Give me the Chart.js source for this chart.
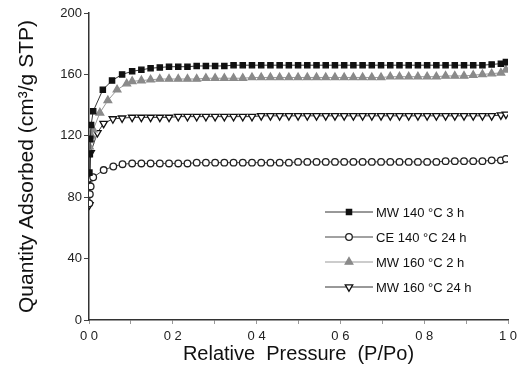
<!DOCTYPE html>
<html><head><meta charset="utf-8">
<script src="https://cdn.jsdelivr.net/npm/chart.js@4/dist/chart.umd.min.js"></script>
<style>html,body{margin:0;padding:0;background:#fff}#wrap{width:528px;height:381px}</style>
</head><body><div id="wrap"><canvas id="c" width="528" height="381"></canvas></div>
<script>
const seriesNames = ['MW 140 \u00B0C 3 h', 'CE 140 \u00B0C 24 h', 'MW 160 \u00B0C 2 h', 'MW 160 \u00B0C 24 h'];
const xTickLabels = ['0 0', '0 2', '0 4', '0 6', '0 8', '1 0'];
const yTickLabels = ['0', '40', '80', '120', '160', '200'];
const xTitle = 'Relative  Pressure  (P/Po)';
const yTitle = 'Quantity Adsorbed (cm\u00B3/g STP)';

// shared relative-pressure points for the plateau region (42 points)
const pTail = [0.103,0.125,0.147,0.169,0.191,0.213,
  0.235,0.257,0.279,0.301,0.323,0.345,
  0.367,0.389,0.411,0.433,0.455,0.477,
  0.499,0.521,0.543,0.565,0.587,0.609,
  0.631,0.653,0.675,0.697,0.719,0.741,
  0.763,0.785,0.807,0.829,0.851,0.873,
  0.895,0.917,0.939,0.961,0.983,0.995];

// MW 140 °C 3 h
const pMW140_3 = [0.001,0.002,0.003,0.005,0.010,0.033,0.055,0.079];
const qMW140_3 = [96,108,118,127,136,150,156,160];
const tMW140_3 = [162,163,164,164.5,165,165,
  165,165.5,165.5,165.5,165.5,166,
  166,166,166,166,166,166,
  166,166,166,166,166,166,
  166,166,166,166,166,166,
  166,166,166,166,166,166,
  166,166,166,166.5,167,168];
// CE 140 °C 24 h
const pCE140_24 = [0.001,0.002,0.004,0.010,0.035,0.058,0.080];
const qCE140_24 = [76,82,87,93,97.7,100,101.5];
const tCE140_24 = [102,102,102,102,102,102,
  102,102.5,102.5,102.5,102.5,102.5,
  102.5,102.5,102.5,102.5,102.5,102.5,
  103,103,103,103,103,103,
  103,103,103,103,103,103,
  103,103,103,103,103.5,103.5,
  103.5,103.5,103.5,104,104,105];
// MW 160 °C 2 h
const pMW160_2 = [0.001,0.003,0.006,0.010,0.026,0.045,0.067,0.090];
const qMW160_2 = [113,117,120,124,135,143,150,154];
const tMW160_2 = [155.5,156,156.5,157,157,157,
  157,157,157.5,157.5,157.5,157.5,
  157.5,158,158,158,158,158,
  158,158,158,158,158,158,
  158,158,158,158,158.5,158.5,
  158.5,158.5,158.5,158.5,159,159,
  159,159.5,160,160.5,161,163];
// MW 160 °C 24 h
const pMW160_24 = [0.001,0.002,0.004,0.020,0.035,0.057,0.079];
const qMW160_24 = [75,92,109,122,128,131,131.5];
const tMW160_24 = [132,132,132,132,132,132.5,
  132.5,132.5,132.5,132.5,132.5,132.5,
  132.5,132.5,133,133,133,133,
  133,133,133,133,133,133,
  133,133,133,133,133,133,
  133,133,133,133,133,133,
  133,133,133,133,133.5,134];

function pts(px, qs, tq) {
  const xs = px.concat(pTail);
  const ys = qs.concat(tq);
  return ys.map((q, i) => ({x: xs[i], y: q}));
}

const styles = [
  {color:'#111111', fill:'#111111', pointStyle:'rect', radius:3.7, rotation:0, lineColor:'#333'},
  {color:'#222222', fill:'#ffffff', pointStyle:'circle', radius:3.3, rotation:0, lineColor:'#444'},
  {color:'#8a8a8a', fill:'#8a8a8a', pointStyle:'triangle', radius:4.4, rotation:0, lineColor:'#999'},
  {color:'#111111', fill:'#ffffff', pointStyle:'triangle', radius:4.3, rotation:180, lineColor:'#333'}
];
const seriesData = [pts(pMW140_3,qMW140_3,tMW140_3), pts(pCE140_24,qCE140_24,tCE140_24),
  pts(pMW160_2,qMW160_2,tMW160_2), pts(pMW160_24,qMW160_24,tMW160_24)];

const datasets = seriesNames.map((n, i) => ({
  label: n, data: seriesData[i], showLine: true,
  borderColor: styles[i].lineColor, borderWidth: 1,
  pointStyle: styles[i].pointStyle, pointRadius: styles[i].radius, pointRotation: styles[i].rotation,
  pointBackgroundColor: styles[i].fill, pointBorderColor: styles[i].color, pointBorderWidth: 1.3,
  tension: 0
}));

const legendPlugin = {
  id: 'lineLegend',
  afterDraw(chart) {
    const ctx = chart.ctx;
    ctx.save();
    ctx.font = '13px "Liberation Sans", Arial, sans-serif';
    ctx.textBaseline = 'middle';
    ctx.textAlign = 'left';
    seriesNames.forEach((n, i) => {
      const y = 212 + i * 25;
      ctx.strokeStyle = styles[i].lineColor; ctx.lineWidth = 1;
      ctx.beginPath(); ctx.moveTo(325, y); ctx.lineTo(373, y); ctx.stroke();
      ctx.fillStyle = styles[i].fill; ctx.strokeStyle = styles[i].color; ctx.lineWidth = 1.3;
      Chart.helpers.drawPoint(ctx, {pointStyle: styles[i].pointStyle, radius: styles[i].radius, rotation: styles[i].rotation, borderWidth: 1.3}, 349, y);
      ctx.fillStyle = '#111';
      ctx.fillText(n, 376, y + 1);
    });
    ctx.restore();
  }
};

new Chart(document.getElementById('c'), {
  type: 'scatter',
  data: { datasets },
  options: {
    responsive: false, animation: false, devicePixelRatio: 1,
    layout: { padding: { top: 13, right: 20, left: 0, bottom: 0 } },
    plugins: { legend: { display: false }, tooltip: { enabled: false } },
    scales: {
      x: {
        type: 'linear', min: 0, max: 1,
        afterFit(s) { s.height = 61; },
        grid: { drawOnChartArea: false, drawTicks: true, tickLength: 4, color: '#999' },
        border: { display: true, color: '#333', width: 1.5 },
        ticks: { stepSize: 0.1, autoSkip: false, maxRotation: 0, padding: 5, color: '#222',
          font: { family: '"Liberation Sans", Arial, sans-serif', size: 13 },
          callback: (v, i) => (i % 2 === 0 ? xTickLabels[i / 2] : '') },
        title: { display: true, text: xTitle, color: '#111', padding: { top: 0, bottom: 15 },
          font: { family: '"Liberation Sans", Arial, sans-serif', size: 20 } }
      },
      y: {
        min: 0, max: 200,
        afterFit(s) { s.width = 89; },
        grid: { drawOnChartArea: false, drawTicks: true, tickLength: 5, color: '#444' },
        border: { display: true, color: '#333', width: 1.5 },
        ticks: { stepSize: 40, padding: 2, color: '#222',
          font: { family: '"Liberation Sans", Arial, sans-serif', size: 13 },
          callback: (v, i) => yTickLabels[i] },
        title: { display: true, text: yTitle, color: '#111', padding: { top: 15, bottom: 0 },
          font: { family: '"Liberation Sans", Arial, sans-serif', size: 21 } }
      }
    }
  },
  plugins: [legendPlugin]
});
</script></body></html>
